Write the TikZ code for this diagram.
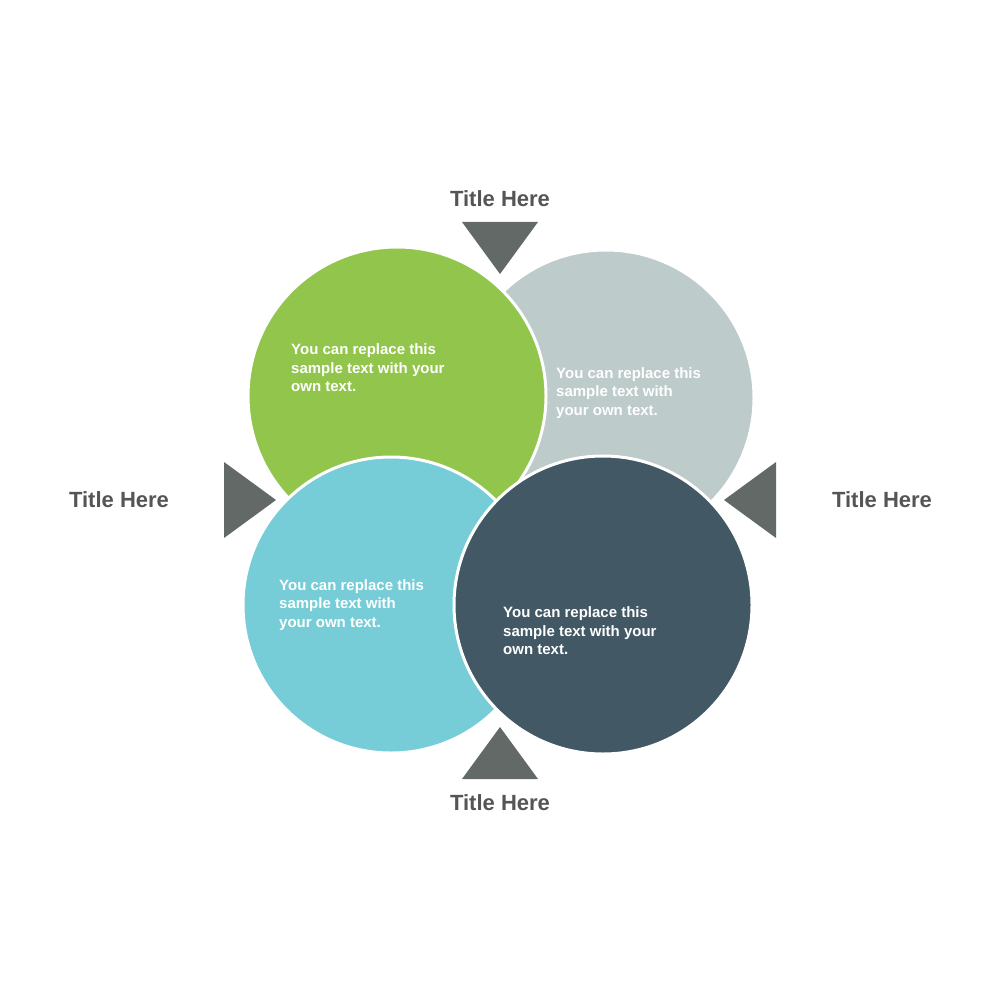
\documentclass[tikz,border=0pt]{standalone}
\usepackage{fontspec}
\setmainfont{Liberation Sans}
\definecolor{cgreen}{HTML}{92C54B}
\definecolor{cgray}{HTML}{BDCBCA}
\definecolor{cteal}{HTML}{76CDD7}
\definecolor{cdark}{HTML}{425864}
\definecolor{tri}{HTML}{636966}
\definecolor{ttl}{HTML}{555555}
\begin{document}
\begin{tikzpicture}[x=1pt,y=-1pt,
  circ/.style={draw=white,line width=3pt},
  tri/.style={fill=tri},
  title/.style={font=\fontsize{22}{26}\selectfont\bfseries,text=ttl},
  body/.style={font=\fontsize{15}{18.5}\selectfont\bfseries,text=white,align=left,anchor=west,inner sep=0pt}]
\useasboundingbox (0,0) rectangle (1000,1000);
\fill[white] (0,0) rectangle (1000,1000);
\draw[circ,fill=cgray] (606,398) circle (148);
\draw[circ,fill=cgreen] (397,396) circle (149);
\draw[circ,fill=cteal] (391,605) circle (148);
\draw[circ,fill=cdark] (603,605) circle (149);
\fill[tri] (462,222) -- (538,222) -- (500,274) -- cycle;
\fill[tri] (462,779) -- (538,779) -- (500,727) -- cycle;
\fill[tri] (224,462) -- (224,538) -- (276,500) -- cycle;
\fill[tri] (776,462) -- (776,538) -- (724,500) -- cycle;
\node[title] (t1) at (500,199) {Title Here};
\node[title] (t2) at (500,803) {Title Here};
\node[title] (t3) at (119,500) {Title Here};
\node[title] (t4) at (882,500) {Title Here};
\node[body] (b1) at (291,368) {You can replace this\\sample text with your\\own text.};
\node[body] (b2) at (556,393) {You can replace this\\sample text with\\your own text.};
\node[body] (b3) at (279,605) {You can replace this\\sample text with\\your own text.};
\node[body] (b4) at (503,631) {You can replace this\\sample text with your\\own text.};
\end{tikzpicture}
\end{document}
